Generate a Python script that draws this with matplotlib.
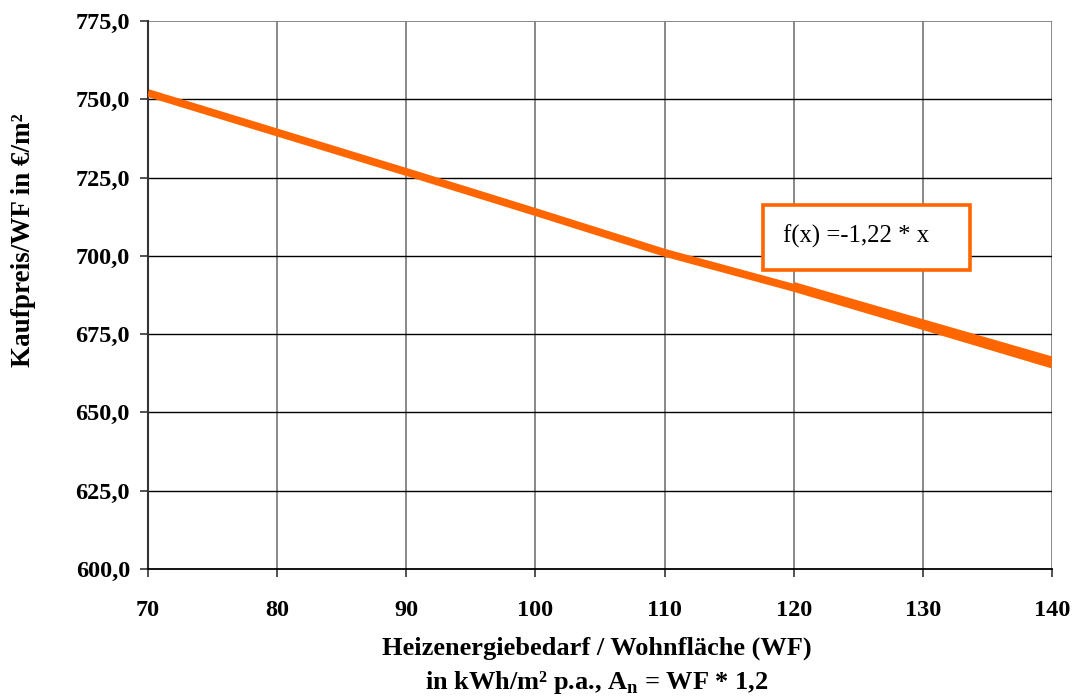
import matplotlib
matplotlib.use("Agg")
import matplotlib.pyplot as plt
from matplotlib.patches import Rectangle

# Data
x_main = [70, 80, 90, 100, 110, 120, 130, 140]
y_main = [752.0, 739.4, 726.8, 714.0, 701.0, 689.8, 677.6, 665.3]
x_second = [120, 140]
y_second = [690.4, 666.6]
x_ticks = [70, 80, 90, 100, 110, 120, 130, 140]
y_ticks = [600, 625, 650, 675, 700, 725, 750, 775]
annotation = "f(x) =-1,22 * x"

orange = "#FF6600"
serif = ["Liberation Serif", "DejaVu Serif"]

fig = plt.figure(figsize=(10.72, 6.96), dpi=100)
ax = fig.add_axes([148/1072, 1-569/696, (1052-148)/1072, (569-21)/696])

ax.set_xlim(70, 140)
ax.set_ylim(600, 775)

# grid
for xv in x_ticks[1:]:
    ax.axvline(xv, color="#808080", lw=1.3, zorder=1)
for yv in y_ticks[1:-1]:
    ax.axhline(yv, color="black", lw=1.0, zorder=1)
ax.axhline(775, color="#808080", lw=1.3, zorder=1)

for s in ["top", "right"]:
    ax.spines[s].set_visible(False)
ax.spines["left"].set_color("#333333")
ax.spines["left"].set_linewidth(1.5)
ax.spines["bottom"].set_color("black")
ax.spines["bottom"].set_linewidth(1.3)

ax.plot(x_main, y_main, color=orange, lw=5.6, solid_capstyle="butt", zorder=3, clip_on=True)
ax.plot(x_second, y_second, color=orange, lw=5.6, solid_capstyle="butt", zorder=3, clip_on=True)

ax.set_xticks(x_ticks)
ax.set_yticks(y_ticks)
ax.set_xticklabels([str(v) for v in x_ticks])
ax.set_yticklabels([f"{v:.1f}".replace(".", ",") for v in y_ticks])
ax.tick_params(direction="out", length=6, width=1.2, color="#333333", pad=7)
for lab in ax.get_xticklabels() + ax.get_yticklabels():
    lab.set_family(serif)
    lab.set_fontweight("bold")
    lab.set_fontsize(17.5)
ax.tick_params(axis="x", pad=16)

# annotation box
rect = Rectangle((117.6, 695.5), 133.65-117.6, 716.2-695.5, facecolor="white",
                 edgecolor=orange, lw=2.6, zorder=5)
ax.add_patch(rect)
ax.text(119.2, 706.3, annotation, family=serif, fontsize=17.8, va="center", ha="left", zorder=6)

fig.text(597/1072, 1-648/696, "Heizenergiebedarf / Wohnfläche (WF)", family=serif,
         fontweight="bold", fontsize=19, ha="center", va="center")
fig.text(597/1072, 1-683/696, r"in kWh/m² p.a., A$_\mathregular{n}$ = WF * 1,2", family=serif,
         fontweight="bold", fontsize=19, ha="center", va="center")
fig.text(24/1072, 1-240/696, "Kaufpreis/WF in €/m²", family=serif, fontweight="bold",
         fontsize=19.5, rotation=90, ha="center", va="center")

fig.savefig("out.png", dpi=100)
